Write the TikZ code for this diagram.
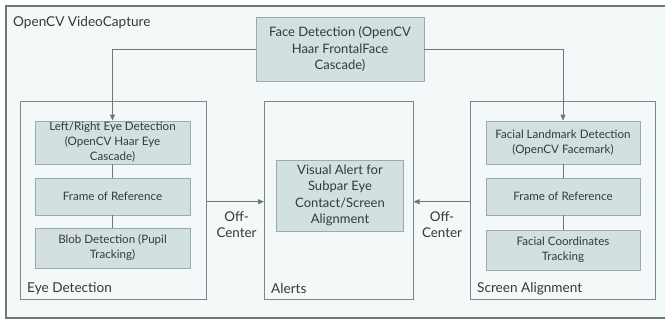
\documentclass[tikz,border=0pt]{standalone}
\usepackage{fontspec}
\setmainfont{Lato}
\usetikzlibrary{arrows.meta}
\definecolor{bgc}{HTML}{F3F8F8}
\definecolor{boxc}{HTML}{D3E0E2}
\definecolor{boxb}{HTML}{9DA9AB}
\definecolor{panb}{HTML}{7C8787}
\definecolor{linec}{HTML}{6F7878}
\definecolor{txt}{HTML}{333A3A}
\tikzset{
  panel/.style={draw=panb, line width=1pt, fill=bgc},
  sbox/.style={draw=boxb, line width=0.8pt, fill=boxc, align=center, text=txt, inner sep=0pt, font=\fontsize{11.6}{15}\selectfont},
  bbox/.style={sbox, font=\fontsize{13}{16.5}\selectfont},
  lbl/.style={text=txt, anchor=west, inner sep=0pt, font=\fontsize{13.6}{16}\selectfont},
  oclbl/.style={text=txt, align=center, inner sep=0pt, font=\fontsize{13.4}{16}\selectfont},
  conn/.style={draw=linec, line width=0.9pt},
  arr/.style={conn, -{Triangle[length=6pt,width=5pt]}},
}
\begin{document}
\begin{tikzpicture}[x=1pt,y=-1pt]
\useasboundingbox (0,0) rectangle (665,320);
\fill[white] (0,0) rectangle (665,320);
\draw[panel, draw=linec, line width=1.2pt] (6,6) rectangle (672,318);
\node[lbl] (vc) at (13,23) {OpenCV VideoCapture};
% panels
\draw[panel] (20,102) rectangle (206.5,300);
\draw[panel] (264,102) rectangle (413.5,300);
\draw[panel] (470,102) rectangle (655,300);
\coordinate (pl) at (206.5,201.7);
\coordinate (pml) at (264,201.7);
\coordinate (pmr) at (413.5,201.7);
\coordinate (pr) at (470,201.7);
\node[lbl] (ed) at (27,289) {Eye Detection};
\node[lbl] (al) at (271,289) {Alerts};
\node[lbl] (sa) at (477,289) {Screen Alignment};
% face box
\node[bbox, minimum width=168pt, minimum height=64pt] (face) at (340,49) {Face Detection (OpenCV\\Haar FrontalFace\\Cascade)};
% left column
\node[sbox, minimum width=155pt, minimum height=43pt] (le) at (112.5,142.5) {Left/Right Eye Detection\\(OpenCV Haar Eye\\Cascade)};
\node[sbox, minimum width=155pt, minimum height=37pt] (lf) at (112.5,196.5) {Frame of Reference};
\node[sbox, minimum width=155pt, minimum height=40pt] (lb) at (112.5,248) {Blob Detection (Pupil\\Tracking)};
% right column
\node[sbox, minimum width=154pt, minimum height=43pt] (re) at (563,142.5) {Facial Landmark Detection\\(OpenCV Facemark)};
\node[sbox, minimum width=154pt, minimum height=37pt] (rf) at (563,196.5) {Frame of Reference};
\node[sbox, minimum width=154pt, minimum height=40pt] (rc) at (563,250) {Facial Coordinates\\Tracking};
% alert box
\node[bbox, minimum width=127pt, minimum height=71pt] (va) at (340,195.5) {Visual Alert for\\Subpar Eye\\Contact/Screen\\Alignment};
% connectors
\draw[arr] (face.west) -| (le.north);
\draw[arr] (face.east) -| (re.north);
\draw[conn] (le) -- (lf);
\draw[conn] (lf) -- (lb);
\draw[conn] (re) -- (rf);
\draw[conn] (rf) -- (rc);
\draw[arr] (pl) -- (pml);
\draw[arr] (pr) -- (pmr);
\node[oclbl] (oc1) at (236.6,225) {Off-\\Center};
\node[oclbl] (oc2) at (442,225) {Off-\\Center};
\end{tikzpicture}
\end{document}
